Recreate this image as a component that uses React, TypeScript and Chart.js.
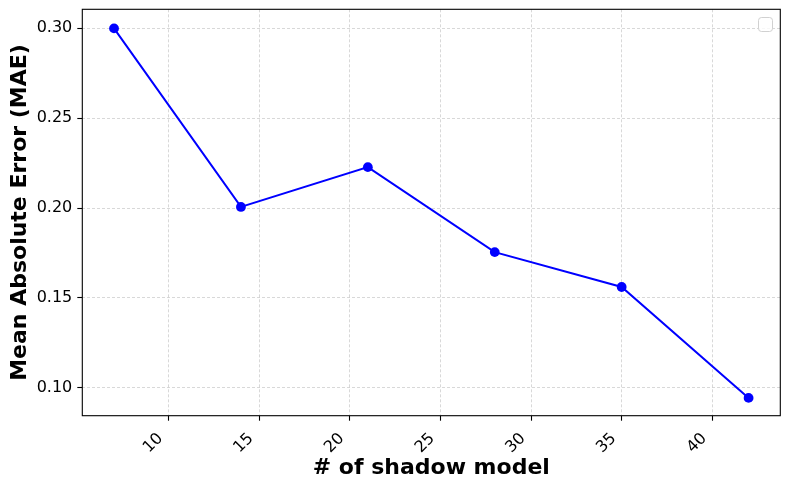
import React, { useEffect, useRef } from "react";
import { Chart, registerables } from "chart.js";

Chart.register(...registerables);

const xValues = [7, 14, 21, 28, 35, 42];
const maeValues = [0.2998, 0.2006, 0.2227, 0.1755, 0.1561, 0.0945];
const xTicks = [10, 15, 20, 25, 30, 35, 40];
const yTicks = [0.1, 0.15, 0.2, 0.25, 0.3];
const xTitle = "# of shadow model";
const yTitle = "Mean Absolute Error (MAE)";

const FONT = "'DejaVu Sans', sans-serif";

const framePlugin = {
  id: "frameAndLegend",
  afterDatasetsDraw(chart: any) {
    const { ctx, chartArea } = chart;
    const { left, right, top, bottom } = chartArea;
    ctx.save();
    // empty legend box
    const bx = 758.5, by = 17.5, bw = 14, bh = 14;
    ctx.beginPath();
    (ctx as any).roundRect(bx, by, bw, bh, 3);
    ctx.fillStyle = "rgba(255,255,255,0.8)";
    ctx.fill();
    ctx.strokeStyle = "rgba(204,204,204,0.9)";
    ctx.lineWidth = 1;
    ctx.stroke();
    // frame
    ctx.strokeStyle = "#000";
    ctx.lineWidth = 1.1;
    ctx.strokeRect(left, top, right - left, bottom - top);
    ctx.restore();
  },
};

const gridOpts = {
  color: "rgba(176,176,176,0.7)",
  lineWidth: 0.7,
  drawTicks: true,
  tickLength: 5,
  tickColor: "#000",
  tickWidth: 1.1,
  tickBorderDash: [],
};

export default function App() {
  const ref = useRef<HTMLCanvasElement | null>(null);
  useEffect(() => {
    if (!ref.current) return;
    const chart = new Chart(ref.current, {
      type: "line",
      data: {
        datasets: [
          {
            data: xValues.map((x, i) => ({ x, y: maeValues[i] })),
            borderColor: "#0000ff",
            backgroundColor: "#0000ff",
            borderWidth: 2,
            pointRadius: 4.9,
            pointBorderWidth: 0,
            pointBackgroundColor: "#0000ff",
            tension: 0,
          },
        ],
      },
      options: {
        animation: false,
        responsive: false,
        layout: { padding: { top: 9.3, right: 9.7, left: 0, bottom: 0 } },
        plugins: { legend: { display: false }, tooltip: { enabled: false } },
        scales: {
          x: {
            type: "linear",
            min: 5.25,
            max: 43.75,
            afterFit: (s: any) => {
              s.height = 73.3;
              s.paddingLeft = 0;
              s.paddingRight = 0;
            },
            afterBuildTicks: (s: any) => {
              s.ticks = xTicks.map((v) => ({ value: v }));
            },
            border: { display: false, dash: [3, 2] },
            grid: gridOpts,
            ticks: {
              color: "#000",
              font: { family: FONT, size: 16 },
              maxRotation: 45,
              minRotation: 45,
              padding: 8.5,
              labelOffset: -8,
              autoSkip: false,
              callback: (v: any) => String(v),
            },
            title: {
              display: true,
              text: xTitle,
              color: "#000",
              font: { family: FONT, size: 22, weight: "bold", lineHeight: 1.2 },
              padding: { top: 0, bottom: 7.5 },
            },
          },
          y: {
            type: "linear",
            min: 0.0846,
            max: 0.3104,
            afterFit: (s: any) => {
              s.width = 82.3;
              s.paddingTop = 0;
              s.paddingBottom = 0;
            },
            afterBuildTicks: (s: any) => {
              s.ticks = yTicks.map((v) => ({ value: v }));
            },
            border: { display: false, dash: [3, 2] },
            grid: gridOpts,
            ticks: {
              color: "#000",
              font: { family: FONT, size: 16 },
              padding: 5,
              callback: (v: any) => Number(v).toFixed(2),
            },
            title: {
              display: true,
              text: yTitle,
              color: "#000",
              font: { family: FONT, size: 22, weight: "bold", lineHeight: 1.2 },
              padding: { top: 6.8, bottom: 0 },
            },
          },
        },
      },
      plugins: [framePlugin],
    });
    return () => chart.destroy();
  }, []);
  return (
    <div style={{ position: "absolute", left: 0, top: 0, width: 790, height: 489, background: "#fff" }}>
      <canvas ref={ref} width={790} height={489} style={{ display: "block" }} />
    </div>
  );
}
